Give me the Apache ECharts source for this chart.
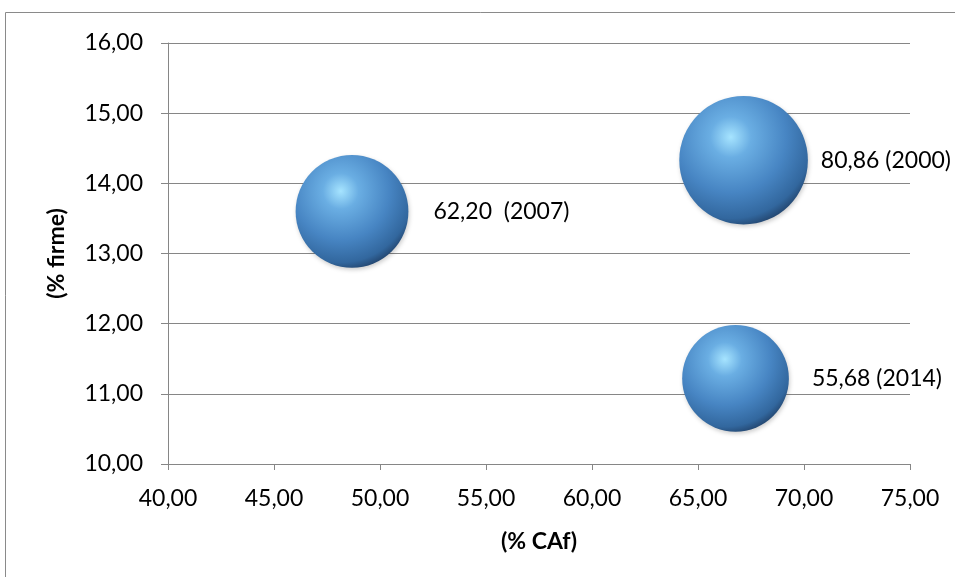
<!DOCTYPE html>
<html><head><meta charset="utf-8">
<script src="https://cdn.jsdelivr.net/npm/echarts@6/dist/echarts.min.js"></script>
<style>html,body{margin:0;padding:0;background:#fff}#c{width:955px;height:577px}</style>
</head><body><div id="c"></div>
<script>
var years = ['2000', '2007', '2014'];
var xValues = [67.15, 48.68, 66.77];   // % CAf
var yValues = [14.33, 13.60, 11.22];   // % firme
var sizes = [80.86, 62.20, 55.68];
var labels = ['80,86 (2000)', '62,20  (2007)', '55,68 (2014)'];
var xTicks = [40, 45, 50, 55, 60, 65, 70, 75];
var yTicks = [10, 11, 12, 13, 14, 15, 16];

var labelDist = [13, 25, 23];
var fmt = function (v) { return v.toFixed(2).replace('.', ','); };
var FONT = 'Lato, "Open Sans", sans-serif';
var FS = 23;

var sphere = {
  type: 'radial', x: 0.4, y: 0.32, r: 0.72,
  colorStops: [
    { offset: 0, color: '#a6e4ff' },
    { offset: 0.22, color: '#6aaee3' },
    { offset: 0.6, color: '#4785c3' },
    { offset: 0.88, color: '#32679e' },
    { offset: 1, color: '#21426a' }
  ]
};

var data = xValues.map(function (x, i) {
  return {
    value: [x, yValues[i], sizes[i]],
    name: years[i],
    label: { distance: labelDist[i], formatter: labels[i] }
  };
});

var chart = echarts.init(document.getElementById('c'));
chart.setOption({
  animation: false,
  graphic: [{
    type: 'rect', shape: { x: 5.5, y: 12.5, width: 1200, height: 900 },
    style: { fill: 'none', stroke: '#8a8a8a', lineWidth: 1 }, silent: true, z: -1
  }],
  grid: { left: 168, right: 45, top: 43, bottom: 113 },
  xAxis: {
    type: 'value', min: xTicks[0], max: xTicks[xTicks.length - 1], interval: 5,
    name: '(% CAf)', nameLocation: 'middle', nameGap: 66,
    nameTextStyle: { fontFamily: FONT, fontSize: FS, fontWeight: 'bold', color: '#000' },
    axisLine: { show: true, lineStyle: { color: '#868686' } },
    axisTick: { show: true, length: 6, inside: false, lineStyle: { color: '#868686' } },
    axisLabel: { formatter: fmt, fontFamily: FONT, fontSize: FS, color: '#000', margin: 23 },
    splitLine: { show: false }
  },
  yAxis: {
    type: 'value', min: yTicks[0], max: yTicks[yTicks.length - 1], interval: 1,
    name: '(% firme)', nameLocation: 'middle', nameGap: 100, nameRotate: 90,
    nameTextStyle: { fontFamily: FONT, fontSize: FS, fontWeight: 'bold', color: '#000' },
    axisLine: { show: true, lineStyle: { color: '#868686' } },
    axisTick: { show: true, length: 7, lineStyle: { color: '#868686' } },
    axisLabel: { formatter: fmt, fontFamily: FONT, fontSize: FS, color: '#000', margin: 25 },
    splitLine: { show: true, lineStyle: { color: '#868686', width: 1 } }
  },
  series: [{
    type: 'scatter',
    data: data,
    symbolSize: function (v) { return 14.3 * Math.sqrt(v[2]); },
    itemStyle: {
      color: sphere, opacity: 1,
      shadowColor: 'rgba(0,0,0,0.2)', shadowBlur: 4, shadowOffsetX: 1, shadowOffsetY: 2
    },
    label: {
      show: true, position: 'right', color: '#000',
      fontFamily: FONT, fontSize: FS
    }
  }]
});
</script></body></html>
